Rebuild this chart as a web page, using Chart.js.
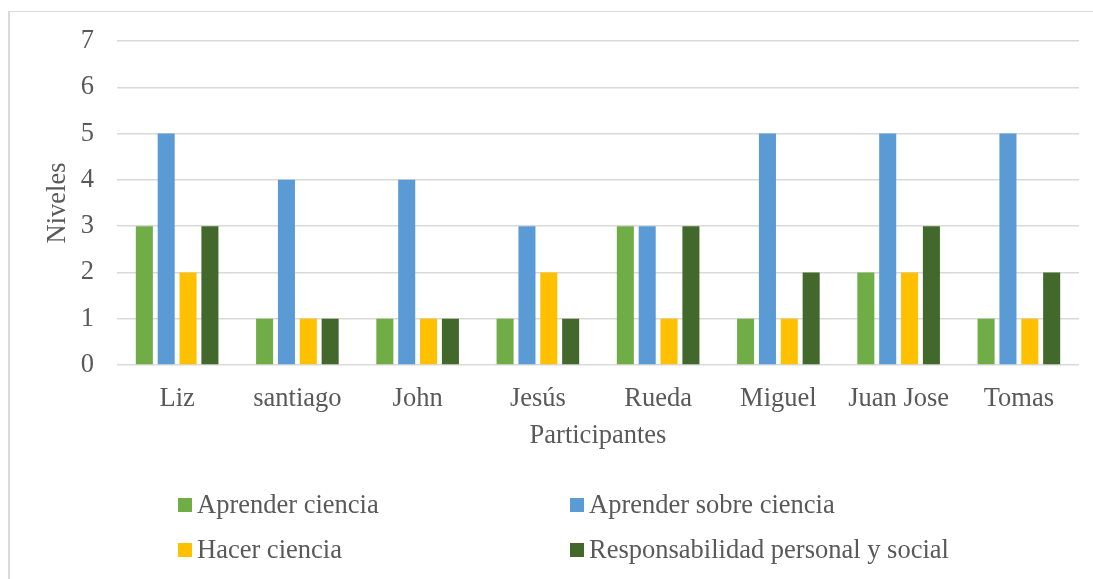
<!DOCTYPE html>
<html>
<head>
<meta charset="utf-8">
<script src="https://cdn.jsdelivr.net/npm/chart.js@4.4.1/dist/chart.umd.min.js"></script>
<style>
  html, body { margin: 0; padding: 0; background: #ffffff; }
  #wrap { position: relative; width: 1093px; height: 579px; overflow: hidden; }
  #frame { position: absolute; left: 8px; top: 11px; width: 1200px; height: 700px;
           border-left: 2px solid #d9d9d9; border-top: 1px solid #d9d9d9; box-sizing: border-box; }
  canvas { position: absolute; left: 0; top: 0; }
</style>
</head>
<body>
<div id="wrap">
  <div id="frame"></div>
  <canvas id="c" width="1093" height="579"></canvas>
</div>
<script>
const categories = ['Liz', 'santiago', 'John', 'Jesús', 'Rueda', 'Miguel', 'Juan Jose', 'Tomas'];
const seriesNames = ['Aprender ciencia', 'Aprender sobre ciencia', 'Hacer ciencia', 'Responsabilidad personal y social'];
const aprenderCiencia = [3, 1, 1, 1, 3, 1, 2, 1];
const aprenderSobreCiencia = [5, 4, 4, 3, 3, 5, 5, 5];
const hacerCiencia = [2, 1, 1, 2, 1, 1, 2, 1];
const responsabilidad = [3, 1, 1, 1, 3, 2, 3, 2];
const yAxisTitle = 'Niveles';
const xAxisTitle = 'Participantes';

const seriesColors = ['#70AD47', '#5B9BD5', '#FFC000', '#43682B'];
const seriesValues = [aprenderCiencia, aprenderSobreCiencia, hacerCiencia, responsabilidad];

const FONT = "'Liberation Serif', 'Times New Roman', serif";
const FSIZE = 26.5;
const TEXT = '#595959';

const legendPlugin = {
  id: 'gridLegend',
  afterDraw(chart) {
    const ctx = chart.ctx;
    const cols = [178, 570];
    const rows = [505, 550];
    ctx.save();
    ctx.font = FSIZE + 'px ' + FONT;
    ctx.textBaseline = 'middle';
    ctx.textAlign = 'left';
    chart.data.datasets.forEach((ds, i) => {
      const x = cols[i % 2];
      const y = rows[Math.floor(i / 2)];
      ctx.fillStyle = ds.backgroundColor;
      ctx.fillRect(x, y - 7, 14, 14);
      ctx.fillStyle = TEXT;
      ctx.fillText(ds.label, x + 19, y + 1);
    });
    ctx.restore();
  }
};

new Chart(document.getElementById('c'), {
  type: 'bar',
  data: {
    labels: categories,
    datasets: seriesNames.map((name, i) => ({
      label: name,
      data: seriesValues[i],
      backgroundColor: seriesColors[i],
      borderWidth: 0,
      categoryPercentage: 0.727,
      barPercentage: 0.78
    }))
  },
  options: {
    responsive: false,
    animation: false,
    devicePixelRatio: 1,
    layout: { padding: { left: 0, right: 14, top: 41, bottom: 110 } },
    plugins: {
      legend: { display: false },
      tooltip: { enabled: false }
    },
    scales: {
      x: {
        grid: { display: false, drawTicks: false },
        border: { display: false },
        ticks: { color: TEXT, font: { family: FONT, size: FSIZE }, padding: 18, maxRotation: 0 },
        title: { display: true, text: xAxisTitle, color: TEXT, font: { family: FONT, size: FSIZE }, padding: { top: 0, bottom: 17 } },
        afterFit(scale) { scale.height = 104; }
      },
      y: {
        min: 0, max: 7,
        ticks: { stepSize: 1, color: TEXT, font: { family: FONT, size: FSIZE }, padding: 23 },
        grid: { color: '#d9d9d9', lineWidth: 1.5, drawTicks: false },
        border: { display: false },
        title: { display: true, text: yAxisTitle, color: TEXT, font: { family: FONT, size: FSIZE }, padding: { top: 42, bottom: 0 } },
        afterFit(scale) { scale.width = 117; }
      }
    }
  },
  plugins: [legendPlugin]
});
</script>
</body>
</html>
